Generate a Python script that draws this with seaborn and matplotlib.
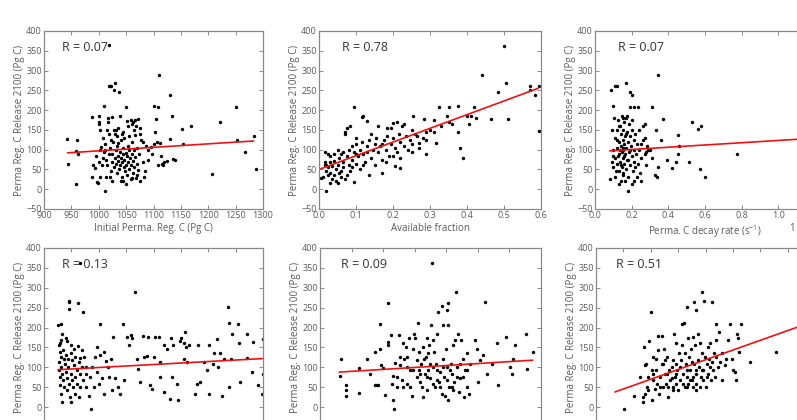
import matplotlib
matplotlib.use("Agg")
import matplotlib.pyplot as plt
import seaborn as sns
import pandas as pd

# =============================================================================
# Values: (x, release in Pg C)
# =============================================================================
pts_init_c = [
    (942, 128), (943, 63), (958, 97), (960, 124), (962, 88), (959, 12), (987, 183), (988, 30),
    (990, 62), (993, 53), (995, 85), (997, 17), (999, 15), (1000, 185), (1000, 170), (1001, 165),
    (1002, 150), (1003, 32), (1005, 108), (1008, 130), (1010, 210), (1011, -5), (1012, 98),
    (1013, 75), (1014, 30), (1016, 180), (1017, 170), (1019, 262), (1021, 262), (1023, 260),
    (1025, 183), (1027, 252), (1029, 268), (1030, 140), (1032, 150), (1033, 135), (1036, 118),
    (1037, 245), (1039, 185), (1043, 140), (1047, 130), (1050, 208), (1052, 172), (1054, 160),
    (1058, 175), (1060, 165), (1062, 170), (1066, 175), (1068, 160), (1072, 178), (1075, 155),
    (1078, 125), (1080, 120), (1080, 70), (1082, 30), (1086, 110), (1090, 100), (1095, 108),
    (1097, 90), (1100, 210), (1101, 115), (1102, 145), (1104, 178), (1106, 120), (1108, 207),
    (1109, 60), (1110, 290), (1112, 118), (1113, 85), (1115, 65), (1118, 62), (1120, 68),
    (1125, 72), (1130, 127), (1131, 238), (1133, 185), (1135, 77), (1140, 75), (1152, 153),
    (1153, 115), (1168, 160), (1207, 38), (1222, 170), (1250, 208), (1252, 125), (1267, 93),
    (1283, 135), (1288, 52), (1018, 365),
    (1010, 95), (1012, 115), (1015, 60), (1018, 88), (1020, 105), (1022, 45), (1024, 70),
    (1025, 90), (1026, 120), (1028, 55), (1030, 80), (1031, 100), (1032, 65), (1033, 40),
    (1034, 110), (1035, 85), (1036, 72), (1037, 50), (1038, 95), (1039, 60), (1040, 78),
    (1041, 125), (1042, 30), (1043, 68), (1044, 88), (1045, 105), (1046, 55), (1047, 75),
    (1048, 45), (1049, 92), (1050, 62), (1051, 85), (1052, 35), (1053, 110), (1054, 70),
    (1055, 50), (1056, 98), (1057, 80), (1058, 25), (1059, 60), (1060, 120), (1061, 90),
    (1062, 42), (1063, 72), (1064, 100), (1065, 55), (1066, 138), (1067, 82), (1068, 28),
    (1069, 65), (1070, 105), (1072, 48), (1074, 88), (1076, 140), (1028, 150), (1035, 155),
    (1045, 145), (1055, 135), (1065, 150), (1018, 140), (1022, 125), (1040, 20), (1050, 12),
    (1060, 28), (1075, 22), (1015, 150), (1008, 80), (1006, 60), (1003, 100), (1000, 70),
    (1020, 30), (1025, 20), (1045, 22), (1085, 45), (1090, 75), (1070, 35),
]

pts_avail = [
    (0.44, 290), (0.50, 362), (0.505, 268), (0.485, 245), (0.51, 178), (0.465, 178), (0.57, 262),
    (0.57, 250), (0.585, 238), (0.595, 262), (0.595, 148), (0.41, 185), (0.42, 208), (0.425, 180),
    (0.405, 165), (0.375, 210), (0.35, 207), (0.325, 207), (0.345, 185), (0.35, 170), (0.31, 175),
    (0.285, 178), (0.29, 145), (0.29, 90), (0.315, 118), (0.38, 105), (0.39, 80), (0.375, 145),
    (0.255, 185), (0.265, 135), (0.27, 118), (0.25, 150), (0.23, 165), (0.225, 160), (0.21, 170),
    (0.2, 168), (0.195, 155), (0.185, 155), (0.16, 160), (0.13, 172), (0.12, 185), (0.115, 183),
    (0.095, 208), (0.085, 160), (0.075, 155), (0.07, 145), (0.07, 140), (0.1, 130), (0.22, 53),
    (0.205, 58), (0.17, 40), (0.135, 35), (0.095, 18), (0.02, -5), (0.015, 95), (0.025, 90),
    (0.03, 85), (0.01, 30), (0.02, 45), (0.02, 60), (0.025, 55), (0.03, 40), (0.03, 68),
    (0.035, 25), (0.035, 58), (0.04, 35), (0.04, 72), (0.045, 20), (0.045, 50), (0.05, 62),
    (0.05, 15), (0.055, 42), (0.055, 80), (0.06, 30), (0.06, 90), (0.065, 55), (0.065, 70),
    (0.07, 25), (0.075, 85), (0.08, 60), (0.08, 100), (0.085, 45), (0.09, 75), (0.09, 110),
    (0.095, 95), (0.1, 65), (0.1, 115), (0.105, 85), (0.11, 100), (0.11, 50), (0.115, 120),
    (0.12, 90), (0.125, 70), (0.13, 110), (0.13, 95), (0.135, 125), (0.14, 80), (0.145, 100),
    (0.15, 115), (0.15, 60), (0.155, 130), (0.16, 95), (0.165, 110), (0.17, 75), (0.175, 125),
    (0.18, 100), (0.185, 135), (0.19, 85), (0.195, 115), (0.2, 130), (0.205, 105), (0.21, 95),
    (0.215, 140), (0.22, 120), (0.23, 110), (0.235, 135), (0.24, 100), (0.245, 125), (0.25, 115),
    (0.26, 140), (0.27, 105), (0.28, 130), (0.29, 125), (0.3, 150), (0.31, 145), (0.33, 160),
    (0.36, 165), (0.4, 185), (0.015, 70), (0.025, 35), (0.05, 100), (0.06, 45), (0.075, 35),
    (0.03, 15), (0.04, 88), (0.09, 55), (0.12, 60), (0.14, 140), (0.18, 70), (0.2, 85),
    (0.22, 78), (0.25, 95), (0.005, 28), (0.015, 62), (0.065, 95), (0.1, 88), (0.17, 115),
]

pts_decay = [
    (0.085, 250), (0.11, 260), (0.12, 260), (0.17, 268), (0.19, 245), (0.2, 238), (0.345, 290),
    (0.19, 208), (0.215, 208), (0.235, 208), (0.31, 207), (0.37, 178), (0.53, 170), (0.56, 153),
    (0.58, 160), (0.45, 137), (0.46, 110), (0.455, 88), (0.775, 88), (0.51, 68), (0.44, 70),
    (0.42, 53), (0.57, 50), (0.6, 30), (0.345, 55), (0.325, 35), (0.34, 30), (0.3, 100),
    (0.29, 100), (0.33, 150), (0.27, 165), (0.26, 160), (0.36, 125), (0.275, 130), (0.285, 110),
    (0.31, 80), (0.39, 73), (0.28, 60), (0.25, 20), (0.18, -5), (0.08, 25), (0.1, 210),
    (0.15, 35), (0.13, 12), (0.2, 12),
    (0.1, 100), (0.1, 55), (0.11, 130), (0.11, 80), (0.11, 30), (0.12, 150), (0.12, 105),
    (0.12, 65), (0.125, 175), (0.13, 120), (0.13, 90), (0.13, 45), (0.135, 160), (0.135, 70),
    (0.14, 140), (0.14, 110), (0.14, 20), (0.145, 95), (0.145, 55), (0.15, 180), (0.15, 125),
    (0.15, 80), (0.155, 150), (0.155, 100), (0.155, 40), (0.16, 170), (0.16, 115), (0.16, 65),
    (0.165, 135), (0.165, 90), (0.17, 180), (0.17, 105), (0.17, 50), (0.175, 145), (0.175, 75),
    (0.18, 120), (0.18, 30), (0.185, 165), (0.185, 95), (0.19, 135), (0.19, 60), (0.195, 110),
    (0.2, 85), (0.2, 150), (0.205, 45), (0.21, 125), (0.21, 70), (0.215, 100), (0.22, 140),
    (0.22, 55), (0.225, 90), (0.23, 115), (0.235, 65), (0.24, 100), (0.245, 40), (0.25, 80),
    (0.26, 125), (0.27, 90), (0.09, 70), (0.095, 150), (0.105, 180), (0.115, 45), (0.125, 85),
    (0.135, 100), (0.145, 185), (0.165, 20), (0.175, 185), (0.2, 175), (0.14, 60), (0.16, 85),
    (0.18, 75), (0.12, 125), (0.15, 105), (0.17, 140), (0.19, 100), (0.13, 160), (0.1, 85),
    (0.23, 30), (0.24, 150), (0.21, 20), (0.25, 115), (0.28, 95),
]

pts_lower_a = [
    (0.58, 160), (0.67, 185), (0.79, 173), (0.85, 166), (0.97, 156), (1.09, 147), (1.24, 153),
    (0.58, 139), (0.73, 120), (1.33, 123), (1.55, 101), (1.88, 126), (1.94, 152), (2.06, 131),
    (2.18, 139), (2.25, 115), (2.33, 101), (2.43, 122), (2.52, 177), (2.61, 72), (2.69, 51),
    (2.77, 34), (2.94, 67), (3.03, 177), (3.09, 156), (3.19, 181), (3.22, 173), (3.34, 290),
    (3.4, 122), (3.42, 97), (3.5, 63), (3.62, 179), (3.66, 125), (3.76, 128), (3.8, 177),
    (3.86, 55), (3.94, 46), (4.0, 126), (4.07, 177), (4.19, 177), (4.22, 114), (4.25, 76),
    (4.37, 156), (4.39, 38), (4.49, 147), (4.59, 21), (4.64, 173), (4.67, 76), (4.73, 156),
    (4.85, 59), (4.89, 17), (4.95, 167), (5.01, 173), (5.1, 160), (5.12, 120), (5.16, 189),
    (5.19, 150), (5.24, 114), (5.3, 156), (5.52, 34), (5.58, 59), (5.64, 156), (5.7, 63),
    (5.85, 114), (5.95, 93), (6.01, 34), (6.04, 156), (6.17, 109), (6.22, 135), (6.31, 170),
    (6.37, 101), (6.43, 135), (6.49, 29), (6.57, 122), (6.71, 251), (6.76, 211), (6.77, 51),
    (6.83, 122), (6.86, 185), (7.1, 208), (7.11, 160), (7.16, 63), (7.4, 124), (7.43, 185),
    (7.58, 88), (7.65, 164), (7.83, 55), (7.95, 34), (7.99, 170), (7.99, 84),
    (0.91, 268), (0.91, 263), (0.91, 246), (1.25, 261), (1.42, 239), (0.61, 208), (2.06, 208),
    (2.9, 209), (1.3, 363),
    (0.51, 206), (0.55, 114), (0.55, 93), (0.58, 76), (0.58, 55), (0.61, 34), (0.63, 101),
    (0.67, 84), (0.67, 13), (0.7, 67), (0.73, 51), (0.75, 109), (0.79, 88), (0.83, 72),
    (0.85, 42), (0.87, 101), (0.91, 59), (0.95, 25), (0.97, 84), (1.0, 13), (1.03, 67),
    (1.07, 51), (1.09, 105), (1.12, 76), (1.15, 34), (1.19, 93), (1.21, 59), (1.27, 25),
    (1.31, 84), (1.33, 51), (1.4, 101), (1.43, 67), (1.46, 126), (1.52, 84), (1.55, 51),
    (1.64, 29), (1.67, 76), (1.72, -4), (1.76, 101), (1.82, 51), (1.94, 88), (2.0, 57),
    (2.12, 72), (2.21, 34), (2.37, 76), (2.49, 42), (0.55, 156), (0.63, 168), (0.7, 143),
    (0.79, 130), (0.88, 122), (0.99, 135), (1.15, 126), (1.27, 114), (1.4, 143), (0.61, 126),
    (1.03, 118),
]

pts_lower_b = [
    (0.63, 77), (0.67, 120), (0.82, 55), (0.82, 44), (0.82, 29), (1.25, 36), (1.25, 99),
    (1.5, 120), (1.58, 84), (1.74, 55), (1.8, 55), (1.85, 55), (1.74, 139), (1.9, 208),
    (1.9, 147), (1.92, 105), (2.01, 99), (2.06, 31), (2.14, 261), (2.16, 164), (2.16, 156),
    (2.25, 181), (2.3, 77), (2.3, 17), (2.35, -4), (2.38, 111), (2.43, 50), (2.51, 181),
    (2.53, 105), (2.59, 67), (2.64, 160), (2.67, 122), (2.71, 152), (2.75, 101), (2.82, 173),
    (2.85, 50), (2.9, 29), (2.94, 147), (2.99, 185), (3.01, 175), (3.06, 76), (3.09, 211),
    (3.12, 93), (3.14, 139), (3.17, 63), (3.2, 109), (3.25, 25), (3.29, 122), (3.33, 84),
    (3.36, 126), (3.4, 173), (3.43, 93), (3.46, 156), (3.48, 72), (3.51, 206), (3.54, 362),
    (3.59, 101), (3.61, 139), (3.64, 50), (3.67, 109), (3.7, 185), (3.75, 240), (3.78, 63),
    (3.81, 88), (3.85, 253), (3.89, 206), (3.91, 122), (3.94, 76), (3.96, 29), (3.99, 147),
    (4.03, 244), (4.05, 261), (4.07, 206), (4.07, 17), (4.1, 50), (4.14, 109), (4.17, 84),
    (4.2, 156), (4.25, 63), (4.28, 168), (4.31, 290), (4.33, 101), (4.36, 185), (4.41, 38),
    (4.43, 72), (4.47, 168), (4.52, 122), (4.56, 25), (4.59, 93), (4.65, 135), (4.67, 50),
    (4.72, 34), (4.75, 109), (4.91, 168), (4.96, 147), (5.02, 63), (5.07, 118), (5.15, 131),
    (5.23, 265), (5.28, 84), (5.44, 109), (5.6, 160), (5.63, 55), (5.89, 177), (6.02, 101),
    (6.07, 84), (6.18, 156), (6.12, 122), (6.53, 185), (6.55, 97), (6.76, 139),
    (2.53, 126), (2.75, 59), (2.96, 93), (3.06, 118), (3.22, 50), (3.38, 76), (3.48, 109),
    (3.59, 59), (3.7, 93), (3.8, 50), (3.91, 101), (4.01, 67), (4.12, 93), (4.22, 42),
    (4.33, 76), (4.43, 109), (4.54, 76), (4.65, 93), (2.85, 93), (2.64, 50), (2.43, 76),
    (2.27, 59), (3.17, 84), (3.38, 42), (3.7, 67), (3.85, 34), (4.01, 101), (4.17, 50),
    (3.27, 152), (3.43, 135), (2.75, 126), (3.59, 168),
]

pts_lower_c = [
    (1.03, -4), (1.4, 28), (1.61, 76), (1.75, 150), (1.79, 105), (1.82, 109), (1.73, 25),
    (1.73, 13), (1.79, 34), (1.85, 51), (1.91, 42), (1.95, 167), (2.01, 238), (2.03, 17),
    (2.07, 67), (2.15, 46), (2.19, 93), (2.21, 122), (2.24, 59), (2.27, 179), (2.31, 34),
    (2.34, 76), (2.4, 179), (2.43, 51), (2.46, 109), (2.49, 147), (2.52, 84), (2.55, 59),
    (2.58, 126), (2.64, 25), (2.68, 93), (2.7, 67), (2.76, 101), (2.8, 51), (2.82, 118),
    (2.85, 185), (2.88, 76), (2.92, 160), (2.94, 59), (2.97, 93), (3.0, 42), (3.04, 135),
    (3.07, 67), (3.1, 118), (3.13, 156), (3.15, 208), (3.19, 84), (3.21, 211), (3.25, 51),
    (3.27, 109), (3.31, 251), (3.31, 76), (3.35, 173), (3.37, 59), (3.41, 126), (3.43, 93),
    (3.47, 147), (3.49, 67), (3.53, 177), (3.55, 51), (3.58, 265), (3.59, 109), (3.61, 156),
    (3.65, 84), (3.67, 244), (3.67, 59), (3.71, 185), (3.73, 118), (3.77, 101), (3.8, 160),
    (3.83, 76), (3.86, 135), (3.89, 290), (3.92, 93), (3.94, 268), (3.98, 126), (4.01, 51),
    (4.04, 109), (4.08, 152), (4.1, 84), (4.14, 122), (4.16, 160), (4.2, 67), (4.22, 114),
    (4.24, 263), (4.28, 93), (4.32, 135), (4.34, 76), (4.38, 208), (4.4, 168), (4.46, 101),
    (4.5, 189), (4.53, 114), (4.59, 67), (4.62, 135), (4.71, 105), (4.75, 122), (4.83, 168),
    (4.89, 208), (4.95, 122), (5.01, 93), (5.07, 88), (5.13, 67), (5.16, 185), (5.19, 173),
    (5.23, 139), (5.29, 208), (5.64, 114), (6.56, 139),
    (2.09, 84), (2.34, 51), (2.58, 84), (2.82, 42), (3.07, 101), (3.31, 51), (3.43, 67),
    (3.55, 76), (3.67, 93), (3.8, 51), (3.92, 67), (4.04, 76), (2.94, 84), (3.19, 59),
    (2.76, 72), (2.64, 51), (3.67, 42), (3.31, 93), (2.4, 109), (2.03, 93), (1.91, 76),
    (2.09, 126), (2.27, 143), (2.52, 118), (2.94, 109), (3.25, 135), (3.49, 114), (3.86, 93),
    (4.16, 101), (4.4, 126),
]

# red fit lines, end points
fit_x = [[943, 1283], [0.0, 0.592], [0.08, 1.2], [0.51, 7.98], [0.61, 6.74], [0.69, 7.6]]
fit_y = [[92, 122], [50, 255], [97, 129], [94, 122], [88, 118], [38, 207]]

r_labels = ["R = 0.07", "R = 0.78", "R = 0.07", "R = 0.13", "R = 0.09", "R = 0.51"]
x_labels = ["Initial Perma. Reg. C (Pg C)", "Available fraction",
            "Perma. C decay rate (s$^{-1}$)", "", "", ""]
x_limits = [(900, 1300), (0, 0.6), (0, 1.2), (0, 8), (0, 7), (0, 8)]
x_steps = [50, 0.1, 0.2, 1, 1, 1]
y_ticks = [-50, 0, 50, 100, 150, 200, 250, 300, 350, 400]
y_label = "Perma Reg. C Release 2100 (Pg C)"

all_pts = [pts_init_c, pts_avail, pts_decay, pts_lower_a, pts_lower_b, pts_lower_c]

# panel boxes in pixels: left, top, width, height (figure is 797 x 420)
boxes = [(44, 31, 219, 178), (319, 31, 222, 178), (595, 31, 220, 178),
         (44, 248, 219, 179), (320, 248, 221, 179), (596, 248, 219, 179)]
r_offsets = [0.08, 0.105, 0.105, 0.08, 0.095, 0.09]

sns.set_style("white")
plt.rcParams['font.family'] = ['Open Sans', 'DejaVu Sans']
plt.rcParams['mathtext.default'] = 'regular'

W, H = 797, 420
fig = plt.figure(figsize=(W / 100, H / 100), dpi=100)
grey = '#5a5a5a'

for i, pts in enumerate(all_pts):
    l, t, w, h = boxes[i]
    ax = fig.add_axes([l / W, 1 - (t + h) / H, w / W, h / H])
    df = pd.DataFrame(pts, columns=['x', 'y'])
    sns.scatterplot(data=df, x='x', y='y', ax=ax, color='black', s=6,
                    linewidth=0, legend=False)
    sns.lineplot(x=fit_x[i], y=fit_y[i], ax=ax, color='#ee1111', linewidth=1.2)

    lo, hi = x_limits[i]
    n = int(round((hi - lo) / x_steps[i]))
    ticks = [lo + k * x_steps[i] for k in range(n + 1)]
    ax.set_xlim(lo, hi)
    ax.set_xticks(ticks)
    bottom_row = i >= 3
    if bottom_row:
        # the lower panels are cut by the picture edge: no x labels visible
        ax.set_xticklabels([''] * len(ticks))
    elif x_steps[i] < 1:
        labs = [f"{v:.1f}" for v in ticks]
        if i == 2:
            labs[-1] = ''  # 1.2 falls outside the picture
        ax.set_xticklabels(labs)
    else:
        ax.set_xticklabels([f"{v:g}" for v in ticks])
    ax.set_ylim(-50, 400)
    ax.set_yticks(y_ticks)
    ylabs = [str(v).replace('-', '\u2212') for v in y_ticks]
    if bottom_row:
        ylabs[0] = ''
    ax.set_yticklabels(ylabs)

    ax.set_xlabel(x_labels[i], fontsize=7, color=grey, labelpad=2)
    ax.set_ylabel(y_label, fontsize=7, color=grey, labelpad=1)
    ax.tick_params(direction='in', length=3, width=0.6, colors='#777777',
                   labelcolor=grey, labelsize=6.5, pad=1.5,
                   top=True, right=True, bottom=True, left=True)
    for sp in ax.spines.values():
        sp.set_color('#888888')
        sp.set_linewidth(0.9)
    ax.text(r_offsets[i], 0.91, r_labels[i], transform=ax.transAxes,
            fontsize=9, color='#333333', va='center', ha='left')

# stray "1" visible at the right edge of the reference
fig.text(795 / W, 1 - 229 / H, "1", fontsize=7, color=grey, ha='right', va='center')

plt.savefig("out.png", dpi=100)
